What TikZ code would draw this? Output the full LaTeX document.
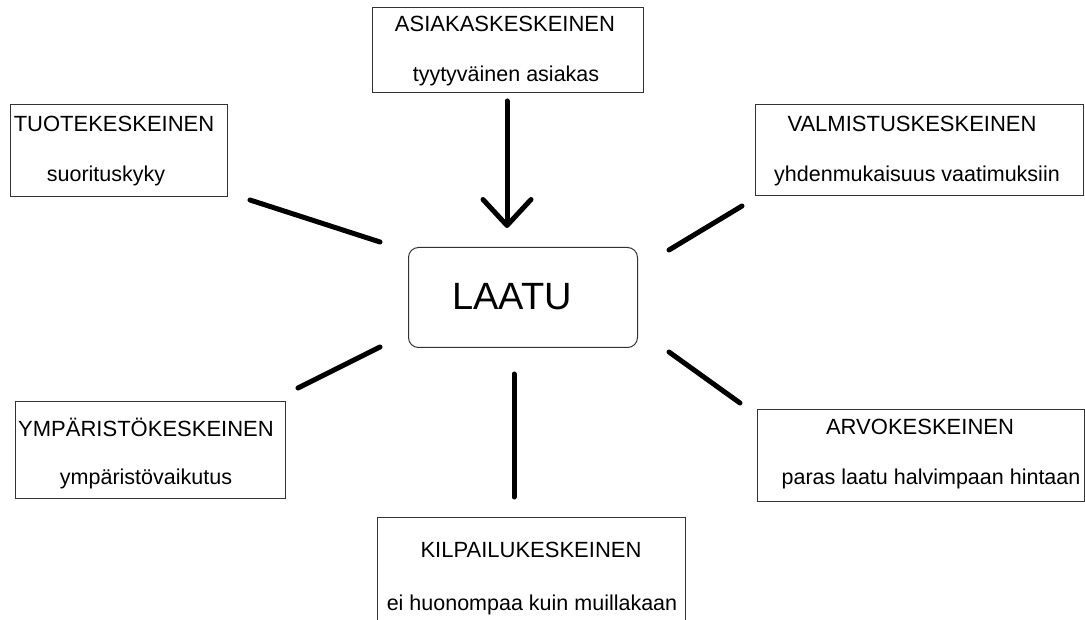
\documentclass[tikz,border=0pt]{standalone}
\usepackage{fontspec}
\setmainfont{Liberation Sans}
\usetikzlibrary{arrows.meta}
\begin{document}
\begin{tikzpicture}[x=1pt,y=-1pt,
  boxstyle/.style={draw=black!80,line width=1pt,inner sep=0pt,anchor=north west},
  tt/.style={font=\fontsize{22}{24}\selectfont,inner sep=0pt,anchor=base},
  st/.style={font=\fontsize{21.5}{24}\selectfont,inner sep=0pt,anchor=base},
  conn/.style={line width=5pt,line cap=round,black}]
\useasboundingbox (0,0) rectangle (1085,620);
\begin{scope}
\clip (0,0) rectangle (1085,620);
% boxes
\node[boxstyle,minimum width=271pt,minimum height=85pt] (asiakas) at (372,7) {};
\node[boxstyle,minimum width=217pt,minimum height=92pt] (tuote) at (10,104) {};
\node[boxstyle,minimum width=328pt,minimum height=91pt] (valm) at (755,104) {};
\node[boxstyle,minimum width=270pt,minimum height=97pt] (ymp) at (15,401) {};
\node[boxstyle,minimum width=327pt,minimum height=92pt] (arvo) at (757,409) {};
\node[boxstyle,minimum width=308pt,minimum height=120pt] (kilp) at (377,517) {};
\node[draw=black!80,line width=1pt,rounded corners=10pt,minimum width=229pt,minimum height=100pt,inner sep=0pt,anchor=north west] (laatu) at (408,247) {};
\end{scope}
% texts
\node[tt] (t1) at (505,32) {ASIAKASKESKEINEN};
\node[st] (s1) at (506,82) {tyytyväinen asiakas};
\node[tt] (t2) at (114,132) {TUOTEKESKEINEN};
\node[st] (s2) at (106,182) {suorituskyky};
\node[tt] (t3) at (912,132) {VALMISTUSKESKEINEN};
\node[st] (s3) at (917,182) {yhdenmukaisuus vaatimuksiin};
\node[tt] (t4) at (146,436) {YMPÄRISTÖKESKEINEN};
\node[st] (s4) at (146,484) {ympäristövaikutus};
\node[tt] (t5) at (920,434) {ARVOKESKEINEN};
\node[st] (s5) at (931,484) {paras laatu halvimpaan hintaan};
\node[tt] (t6) at (531,557) {KILPAILUKESKEINEN};
\node[st] (s6) at (532,610) {ei huonompaa kuin muillakaan};
\node[font=\fontsize{38}{40}\selectfont,inner sep=0pt,anchor=base] (lt) at (512,310) {LAATU};
% connector end points
\coordinate (a1) at (507,101);
\coordinate (a2) at (507,228);
\coordinate (b1) at (250,200);
\coordinate (b2) at (380,242);
\coordinate (c1) at (742,206);
\coordinate (c2) at (669,250);
\coordinate (d1) at (380,347);
\coordinate (d2) at (298,388);
\coordinate (e1) at (669,352);
\coordinate (e2) at (740,403);
\coordinate (f1) at (514,374);
\coordinate (f2) at (514,497);
\draw[conn,line join=round,-{Straight Barb[length=26pt,width=48pt,line cap=round,line join=round]}] (a1) -- (a2);
\draw[conn] (b1) -- (b2);
\draw[conn] (c1) -- (c2);
\draw[conn] (d1) -- (d2);
\draw[conn] (e1) -- (e2);
\draw[conn] (f1) -- (f2);
\end{tikzpicture}
\end{document}
